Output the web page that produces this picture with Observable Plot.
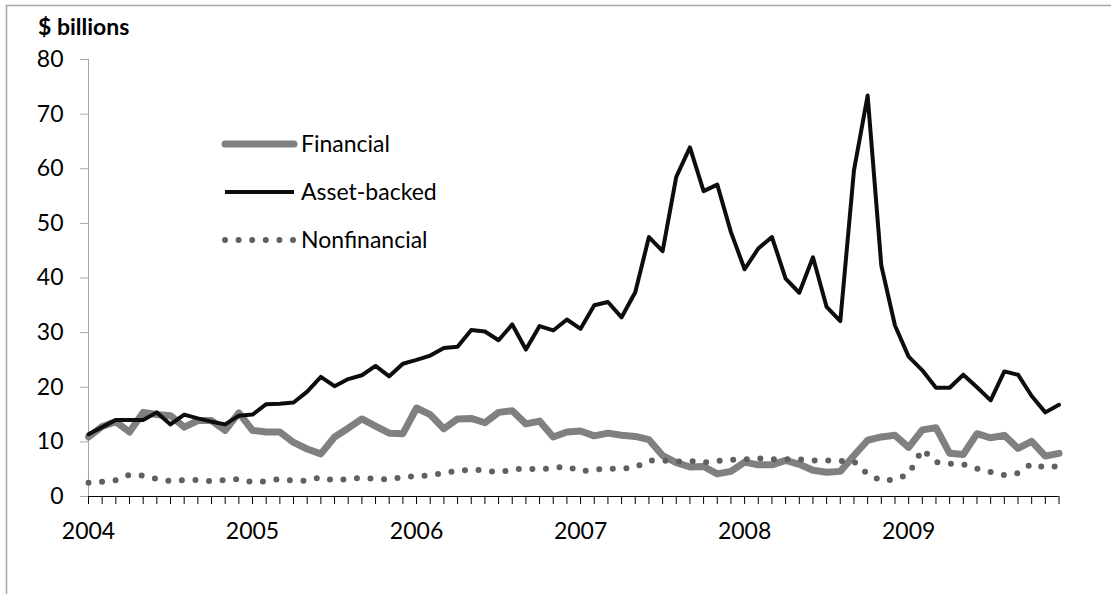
<!DOCTYPE html>
<html>
<head>
<meta charset="utf-8">
<script src="https://cdn.jsdelivr.net/npm/d3@7"></script>
<script src="https://cdn.jsdelivr.net/npm/@observablehq/plot@0.6"></script>
<style>
  body { margin: 0; background: #fff; }
  #wrap { position: relative; width: 1111px; height: 594px; overflow: hidden; }
</style>
</head>
<body>
<div id="wrap"></div>
<script>
// ---- data (monthly, Jan 2004 – Dec 2009), $ billions ----
const years = ["2004", "2005", "2006", "2007", "2008", "2009"];
const monthNames = ["01","02","03","04","05","06","07","08","09","10","11","12"];
const months = years.flatMap(y => monthNames.map(m => `${y}-${m}`));

const financial = [
  10.9, 12.8, 13.7, 11.8, 15.4, 15.0, 14.8, 12.7, 13.9, 13.9, 12.1, 15.3,
  12.1, 11.8, 11.8, 9.9, 8.7, 7.8, 10.9, 12.5, 14.2, 12.9, 11.6, 11.5,
  16.2, 15.0, 12.4, 14.2, 14.3, 13.5, 15.4, 15.7, 13.3, 13.8, 10.9, 11.8,
  12.0, 11.1, 11.6, 11.2, 11.0, 10.4, 7.5, 6.2, 5.4, 5.5, 4.15, 4.6,
  6.3, 5.8, 5.8, 6.6, 5.9, 4.8, 4.45, 4.6, 7.5, 10.3, 10.9, 11.2,
  9.0, 12.2, 12.6, 7.9, 7.7, 11.5, 10.75, 11.2, 8.8, 10.1, 7.4, 7.9
];
const assetBacked = [
  11.4, 12.7, 14.0, 14.0, 14.0, 15.4, 13.2, 15.0, 14.3, 13.7, 13.2, 14.8,
  15.0, 16.9, 17.0, 17.2, 19.2, 21.9, 20.2, 21.5, 22.2, 23.9, 22.0, 24.3,
  25.0, 25.8, 27.2, 27.4, 30.5, 30.2, 28.6, 31.5, 26.9, 31.2, 30.4, 32.4,
  30.7, 35.0, 35.6, 32.8, 37.4, 47.5, 44.9, 58.5, 63.9, 55.9, 57.1, 48.4,
  41.6, 45.4, 47.5, 39.9, 37.3, 43.8, 34.7, 32.1, 59.7, 73.4, 42.3, 31.3,
  25.6, 23.1, 19.9, 19.9, 22.3, 20.0, 17.6, 22.9, 22.3, 18.4, 15.4, 16.8
];
const nonfinancial = [
  2.5, 2.7, 3.0, 4.0, 3.8, 3.2, 2.8, 3.0, 3.0, 2.8, 3.0, 3.2,
  2.6, 2.8, 3.2, 2.9, 2.9, 3.5, 2.9, 3.2, 3.4, 3.2, 3.1, 3.6,
  3.7, 3.9, 4.3, 4.7, 4.9, 4.8, 4.4, 4.95, 5.1, 4.95, 5.25, 5.5,
  4.6, 4.95, 5.07, 5.05, 5.35, 6.6, 6.6, 6.4, 6.5, 6.2, 6.5, 6.7,
  6.8, 7.0, 6.8, 6.8, 6.8, 6.6, 6.6, 6.5, 6.4, 4.1, 2.9, 3.1,
  4.1, 8.6, 6.3, 6.0, 5.9, 5.1, 4.5, 3.9, 4.3, 6.0, 5.3, 5.6
];
const yTicks = [0, 10, 20, 30, 40, 50, 60, 70, 80];
const seriesNames = ["Financial", "Asset-backed", "Nonfinancial"];
const unitLabel = "$ billions";

const rows = months.map((m, i) => ({
  i, month: m,
  financial: financial[i],
  assetBacked: assetBacked[i],
  nonfinancial: nonfinancial[i]
}));
const monthTicks = rows.map(d => d.i);
const yearTicks = rows.filter(d => d.month.endsWith("-01")).map(d => d.i);

const FONT = "Lato, 'Open Sans', sans-serif";
const W = 1111, H = 594;

const chart = Plot.plot({
  width: W, height: H,
  marginLeft: 88, marginRight: 52.5, marginTop: 59, marginBottom: 98,
  style: { fontFamily: FONT, fontSize: "23px", color: "#000", background: "#fff" },
  x: { domain: [0, 71], axis: null },
  y: { domain: [0, 80], axis: null },
  marks: [
    Plot.axisY(yTicks, { tickSize: 8, tickPadding: 17, stroke: "#a6a6a6", fill: "#000", label: null }),
    Plot.ruleX([0], { stroke: "#a6a6a6", strokeWidth: 1 }),
    Plot.axisX(monthTicks, { tickSize: 8, tickFormat: () => "", stroke: "#000", label: null }),
    Plot.axisX(yearTicks, { tickSize: 0, tickPadding: 26, tickFormat: i => months[i].slice(0, 4), fill: "#000", label: null }),
    Plot.ruleY([0], { stroke: "#000", strokeWidth: 1.2 }),
    Plot.line(rows, { x: "i", y: "financial", stroke: "#808080", strokeWidth: 7, strokeLinejoin: "round", strokeLinecap: "round" }),
    Plot.line(rows, { x: "i", y: "assetBacked", stroke: "#0d0d0d", strokeWidth: 4, strokeLinejoin: "round" }),
    Plot.line(rows, { x: "i", y: "nonfinancial", stroke: "#606060", strokeWidth: 6, strokeLinecap: "round", strokeDasharray: "0 13.6" })
  ]
});

document.getElementById("wrap").appendChild(chart);

// decorations: frame, unit label, legend
const svg = d3.select(chart);
const deco = svg.append("g").attr("text-anchor", "start");
deco.append("line").attr("x1", 6.5).attr("x2", 6.5).attr("y1", 5).attr("y2", H)
  .attr("stroke", "#a6a6a6").attr("stroke-width", 1.5);
deco.append("line").attr("x1", 6).attr("x2", W).attr("y1", 5.5).attr("y2", 5.5)
  .attr("stroke", "#a6a6a6").attr("stroke-width", 1.5);

deco.append("text").attr("x", 38).attr("y", 35).attr("text-anchor", "start")
  .attr("font-family", FONT).attr("font-size", 23).attr("font-weight", "bold")
  .attr("fill", "#000").text(unitLabel);

const legendStyles = [
  { stroke: "#808080", width: 7, cap: "round", dash: null },
  { stroke: "#0d0d0d", width: 4, cap: "butt", dash: null },
  { stroke: "#606060", width: 6, cap: "round", dash: "0 13.6" }
];
seriesNames.forEach((name, k) => {
  const cy = 144 + k * 48;
  const st = legendStyles[k];
  const ln = deco.append("line").attr("x1", 225).attr("x2", 294).attr("y1", cy).attr("y2", cy)
    .attr("stroke", st.stroke).attr("stroke-width", st.width).attr("stroke-linecap", st.cap);
  if (st.dash) ln.attr("stroke-dasharray", st.dash);
  deco.append("text").attr("x", 301).attr("y", cy).attr("dy", "0.36em").attr("text-anchor", "start")
    .attr("font-family", FONT).attr("font-size", 23).attr("fill", "#000").text(name);
});
</script>
</body>
</html>
